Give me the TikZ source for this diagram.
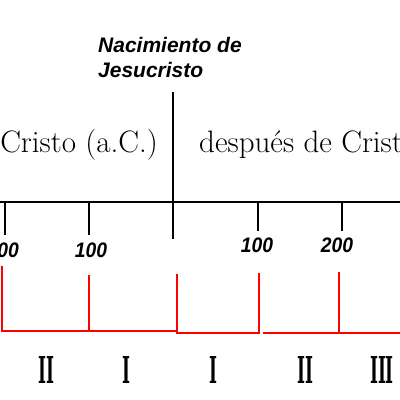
\documentclass[tikz,border=0pt]{standalone}
\usepackage{fontspec}
\newfontfamily\hvfont{Liberation Sans}
\newfontfamily\slabfont{DejaVu Serif}
\begin{document}
\begin{tikzpicture}[x=1pt,y=-1pt,
  axisline/.style={line width=1.5pt,black},
  redline/.style={line width=1.6pt,red},
  eralabel/.style={inner sep=0pt,font=\fontsize{31}{31}\selectfont},
  numlabel/.style={inner sep=0pt,font=\hvfont\bfseries\itshape\fontsize{21}{21}\selectfont,xscale=0.92},
  romlabel/.style={inner sep=0pt,font=\slabfont\bfseries\fontsize{37}{37}\selectfont,xscale=0.46},
  titlelabel/.style={inner sep=0pt,align=left,font=\hvfont\bfseries\itshape\fontsize{21}{25}\selectfont}]
\useasboundingbox (0,0) rectangle (400,400);
\clip (0,0) rectangle (400,400);
% axis coordinates
\coordinate (axL) at (-5,202);
\coordinate (axR) at (405,202);
\coordinate (ctop) at (173,92);
\coordinate (cbot) at (173,239);
\coordinate (t1a) at (5,202);   \coordinate (t1b) at (5,235);
\coordinate (t2a) at (89,202);  \coordinate (t2b) at (89,235);
\coordinate (t3a) at (258,202); \coordinate (t3b) at (258,231);
\coordinate (t4a) at (342,202); \coordinate (t4b) at (342,231);
\draw[axisline] (axL) -- (axR);
\draw[axisline] (ctop) -- (cbot);
\draw[axisline] (t1a) -- (t1b);
\draw[axisline] (t2a) -- (t2b);
\draw[axisline] (t3a) -- (t3b);
\draw[axisline] (t4a) -- (t4b);
% title
\node[titlelabel,anchor=base west] (title) at (98,77) {Nacimiento de\\Jesucristo};
% era labels
\node[eralabel,anchor=base east] (ac) at (158,152) {Cristo (a.C.)};
\node[eralabel,anchor=base west] (dc) at (199,152) {después de Cristo};
% numbers
\node[numlabel,anchor=base east] (n1) at (19,257) {200};
\node[numlabel,anchor=base] (n2) at (91,257) {100};
\node[numlabel,anchor=base] (n3) at (257,252) {100};
\node[numlabel,anchor=base] (n4) at (337,252) {200};
% red brackets
\coordinate (r1) at (2,266);   \coordinate (r1b) at (2,331);
\coordinate (r2) at (89,275);  \coordinate (r2b) at (89,331);
\coordinate (r3e) at (177,331);
\coordinate (r4) at (177,274); \coordinate (r4b) at (177,333);
\coordinate (r5) at (259,273); \coordinate (r5b) at (259,333);
\coordinate (r6s) at (263,333); \coordinate (r6e) at (405,333);
\coordinate (r7) at (339,272); \coordinate (r7b) at (339,333);
\draw[redline] (r1) -- (r1b) -- (r3e);
\draw[redline] (r2) -- (r2b);
\draw[redline] (r4) -- (r4b) -- (r5b) -- (r5);
\draw[redline] (r6s) -- (r6e);
\draw[redline] (r7) -- (r7b);
% roman numerals
\node[romlabel,anchor=base] (c1) at (46,383) {II};
\node[romlabel,anchor=base] (c2) at (126,383) {I};
\node[romlabel,anchor=base] (c3) at (213,383) {I};
\node[romlabel,anchor=base] (c4) at (305,383) {II};
\node[romlabel,anchor=base] (c5) at (382,383) {III};
\end{tikzpicture}
\end{document}
